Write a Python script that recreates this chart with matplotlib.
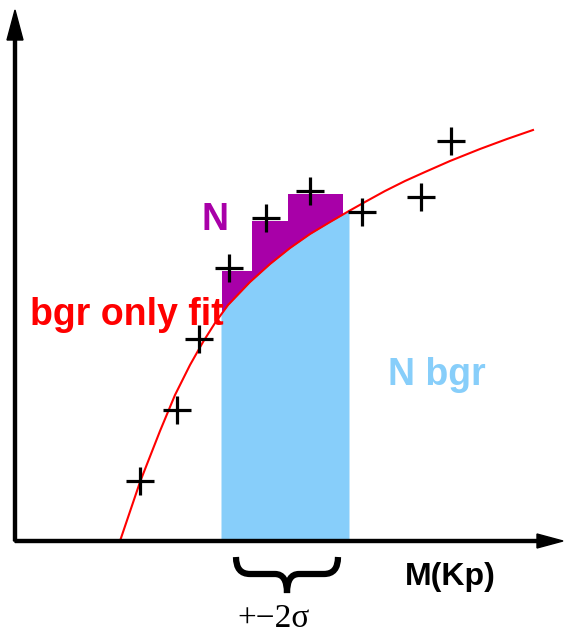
import numpy as np
import matplotlib
matplotlib.use("Agg")
import matplotlib.pyplot as plt
from matplotlib.path import Path
from matplotlib.patches import PathPatch

# data points (x, y), origin at the axes corner
pts_x = [125, 162, 184, 214, 251, 295, 347, 406, 436]
pts_y = [60, 131, 202, 273, 323, 350, 329, 344, 400]

# background-only fit curve
fit_x = [105, 125, 145, 160, 175, 188, 200, 213, 235, 255, 275, 295, 315,
         334, 350, 370, 390, 410, 435, 465, 492, 518]
fit_y = [0, 59, 110, 146, 176, 199, 218, 236, 259, 277, 293, 307, 319,
         330, 339, 350, 360, 369, 380, 392, 402, 411]

# signal window histogram
bin_edges = [207, 237, 273, 328]
bin_tops = [270, 320, 347]
win_lo, win_hi = 206, 334

purple = "#a800a8"
lblue = "#87cefa"
red = "#ff0000"

fig = plt.figure(figsize=(5.64, 6.35), dpi=100)
ax = fig.add_axes([0, 0, 1, 1])
ax.set_xlim(-15, 549)
ax.set_ylim(-94, 541)
ax.axis("off")

# N (signal+bgr) bars
ax.bar(bin_edges[:-1], bin_tops, width=np.diff(bin_edges), align="edge",
       color=purple, linewidth=0, zorder=1)

# N bgr: area under the fit inside the window
wx = np.linspace(win_lo, win_hi, 100)
wy = np.interp(wx, fit_x, fit_y)
ax.fill_between(wx, 0, wy, color=lblue, linewidth=0, zorder=2)

ax.plot(fit_x, fit_y, color=red, lw=1.5, zorder=3)
ax.plot(pts_x, pts_y, ls="none", marker="+", ms=19.5, mew=2.3,
        color="black", zorder=4)

# axes with arrows
ax.arrow(0, 0, 0, 531, width=3, head_width=16, head_length=30,
         length_includes_head=True, color="black", zorder=5)
ax.arrow(0, 0, 548, 0, width=3, head_width=14, head_length=26,
         length_includes_head=True, color="black", zorder=5)

bold = dict(family="Liberation Sans", weight="bold", fontsize=27)
ax.text(200, 311, "N", color=purple, ha="center", va="baseline", **bold)
ax.text(15, 216, "bgr only fit", color=red, ha="left", va="baseline", **bold)
ax.text(373, 156, "N bgr", color=lblue, ha="left", va="baseline", **bold)
ax.text(390, -44, "M(Kp)", color="black", ha="left", va="baseline",
        family="Liberation Sans", weight="bold", fontsize=23)

# brace under the window
bl, br, btop, bmid, btip = 221, 323, -16, -33, -52
bc = (bl + br) / 2
verts = [(bl, btop), (bl, bmid), (bl + 14, bmid),
         (bc - 12, bmid), (bc, bmid), (bc, btip),
         (bc, bmid), (bc + 12, bmid),
         (br - 14, bmid), (br, bmid), (br, btop)]
codes = [Path.MOVETO, Path.CURVE3, Path.CURVE3,
         Path.LINETO, Path.CURVE3, Path.CURVE3,
         Path.CURVE3, Path.CURVE3,
         Path.LINETO, Path.CURVE3, Path.CURVE3]
ax.add_patch(PathPatch(Path(verts, codes), fill=False, lw=4.5,
                       capstyle="butt", joinstyle="miter", color="black"))

ax.text(222, -93, "+\u22122\u03c3", color="black", ha="left", va="bottom",
        family="Liberation Serif", fontsize=24)

fig.savefig("out.png", dpi=100)
